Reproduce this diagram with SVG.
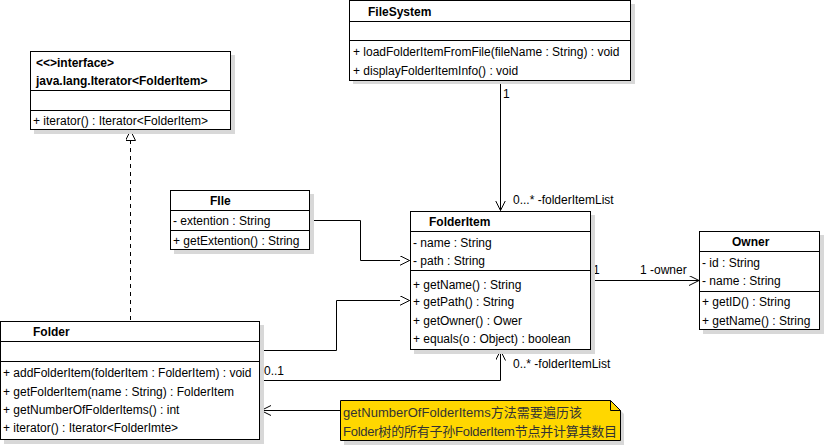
<svg xmlns="http://www.w3.org/2000/svg" width="825" height="445" viewBox="0 0 825 445">
<style>
text{font-family:"Liberation Sans",Arial,"Noto Sans CJK SC",sans-serif;font-size:12px;fill:#000}
.h{font-weight:bold}
.box{fill:#fff;stroke:#000;stroke-width:1}
.sh{fill:#d8d8d8}
.sep{stroke:#000;stroke-width:1}
.c{fill:none;stroke:#000;stroke-width:1}
.n{font-size:13px;fill:#333}
</style>
<defs>
<marker id="open" markerWidth="12" markerHeight="12" refX="10" refY="5" orient="auto" markerUnits="userSpaceOnUse">
<path d="M0,0 L10,5 L0,10" fill="none" stroke="#000"/>
</marker>
<marker id="tri" markerWidth="12" markerHeight="12" refX="10" refY="5" orient="auto" markerUnits="userSpaceOnUse">
<path d="M0,0 L10,5 L0,10 Z" fill="#fff" stroke="#000"/>
</marker>
</defs>
<rect width="825" height="445" fill="#fff"/>

<g id="connectors">
<path class="c" d="M500.5,81 V210.5" marker-end="url(#open)"/>
<path class="c" d="M310,220.5 H360.5 V260.5 H409.5" marker-end="url(#tri)"/>
<path class="c" d="M260,350.5 H336.5 V300.5 H409.5" marker-end="url(#tri)"/>
<path class="c" d="M260,380.5 H500.5 V350.5" marker-end="url(#open)"/>
<path class="c" d="M591,280.5 H699" marker-end="url(#open)"/>
<path class="c" d="M130.5,320 V130.5" stroke-dasharray="4,4" marker-end="url(#tri)"/>
<path class="c" d="M340,410.5 H261" marker-end="url(#open)"/>
<text x="503" y="98">1</text>
<text x="513" y="204">0...* -folderItemList</text>
<text x="264" y="375">0..1</text>
<text x="513" y="368">0..* -folderItemList</text>
<text x="593" y="274">1</text>
<text x="640" y="274">1 -owner</text>
</g>

<g id="FileSystem">
<rect class="sh" x="353" y="4" width="282" height="80"/>
<rect class="box" x="349.5" y="0.5" width="281" height="80"/>
<line class="sep" x1="349.5" y1="21.5" x2="630.5" y2="21.5"/>
<line class="sep" x1="349.5" y1="40.5" x2="630.5" y2="40.5"/>
<text class="h" x="368" y="16">FileSystem</text>
<text x="353" y="56">+ loadFolderItemFromFile(fileName : String) : void</text>
<text x="353" y="75">+ displayFolderItemInfo() : void</text>
</g>

<g id="Iterator">
<rect class="sh" x="34" y="55" width="201" height="79"/>
<rect class="box" x="30.5" y="51.5" width="200" height="78"/>
<line class="sep" x1="30.5" y1="90.5" x2="230.5" y2="90.5"/>
<line class="sep" x1="30.5" y1="110.5" x2="230.5" y2="110.5"/>
<text class="h" x="36" y="67">&lt;&lt;&gt;interface&gt;</text>
<text class="h" x="36" y="85">java.lang.Iterator&lt;FolderItem&gt;</text>
<text x="33" y="125">+ iterator() : Iterator&lt;FolderItem&gt;</text>
</g>

<g id="File">
<rect class="sh" x="174" y="194" width="140" height="60"/>
<rect class="box" x="170.5" y="190.5" width="139" height="59"/>
<line class="sep" x1="170.5" y1="210.5" x2="309.5" y2="210.5"/>
<line class="sep" x1="170.5" y1="230.5" x2="309.5" y2="230.5"/>
<text class="h" x="210" y="205">FIle</text>
<text x="173" y="225">- extention : String</text>
<text x="173" y="245">+ getExtention() : String</text>
</g>

<g id="FolderItem">
<rect class="sh" x="414" y="215" width="181" height="139"/>
<rect class="box" x="410.5" y="211.5" width="180" height="138"/>
<line class="sep" x1="410.5" y1="231.5" x2="590.5" y2="231.5"/>
<line class="sep" x1="410.5" y1="270.5" x2="590.5" y2="270.5"/>
<text class="h" x="429" y="226">FolderItem</text>
<text x="413" y="247">- name : String</text>
<text x="413" y="265">- path : String</text>
<text x="413" y="289">+ getName() : String</text>
<text x="413" y="306">+ getPath() : String</text>
<text x="413" y="325">+ getOwner() : Ower</text>
<text x="413" y="343">+ equals(o : Object) : boolean</text>
</g>

<g id="Owner">
<rect class="sh" x="703" y="235" width="121" height="99"/>
<rect class="box" x="699.5" y="231.5" width="120" height="98"/>
<line class="sep" x1="699.5" y1="251.5" x2="819.5" y2="251.5"/>
<line class="sep" x1="699.5" y1="291.5" x2="819.5" y2="291.5"/>
<text class="h" x="732" y="246">Owner</text>
<text x="702" y="267">- id : String</text>
<text x="702" y="285">- name : String</text>
<text x="702" y="306">+ getID() : String</text>
<text x="702" y="325">+ getName() : String</text>
</g>

<g id="Folder">
<rect class="sh" x="4" y="325" width="260" height="119"/>
<rect class="box" x="0.5" y="321.5" width="259" height="118"/>
<line class="sep" x1="0.5" y1="341.5" x2="259.5" y2="341.5"/>
<line class="sep" x1="0.5" y1="361.5" x2="259.5" y2="361.5"/>
<text class="h" x="33" y="336">Folder</text>
<text x="3" y="377">+ addFolderItem(folderItem : FolderItem) : void</text>
<text x="3" y="396">+ getFolderItem(name : String) : FolderItem</text>
<text x="3" y="414">+ getNumberOfFolderItems() : int</text>
<text x="3" y="432">+ iterator() : Iterator&lt;FolderImte&gt;</text>
</g>

<g id="Note">
<path d="M344,404 H614 L624,414 V445 H344 Z" fill="#d8d8d8"/>
<path d="M340.5,400.5 H610.5 L620.5,410.5 V440.5 H340.5 Z" fill="#ffd700" stroke="#000"/>
<path d="M610.5,400.5 V410.5 H620.5" fill="none" stroke="#000"/>
<text class="n" x="343" y="417" textLength="239" lengthAdjust="spacing">getNumberOfFolderItems方法需要遍历该</text>
<text class="n" x="343" y="436" textLength="274" lengthAdjust="spacing">Folder树的所有子孙FolderItem节点并计算其数目</text>
</g>
</svg>
